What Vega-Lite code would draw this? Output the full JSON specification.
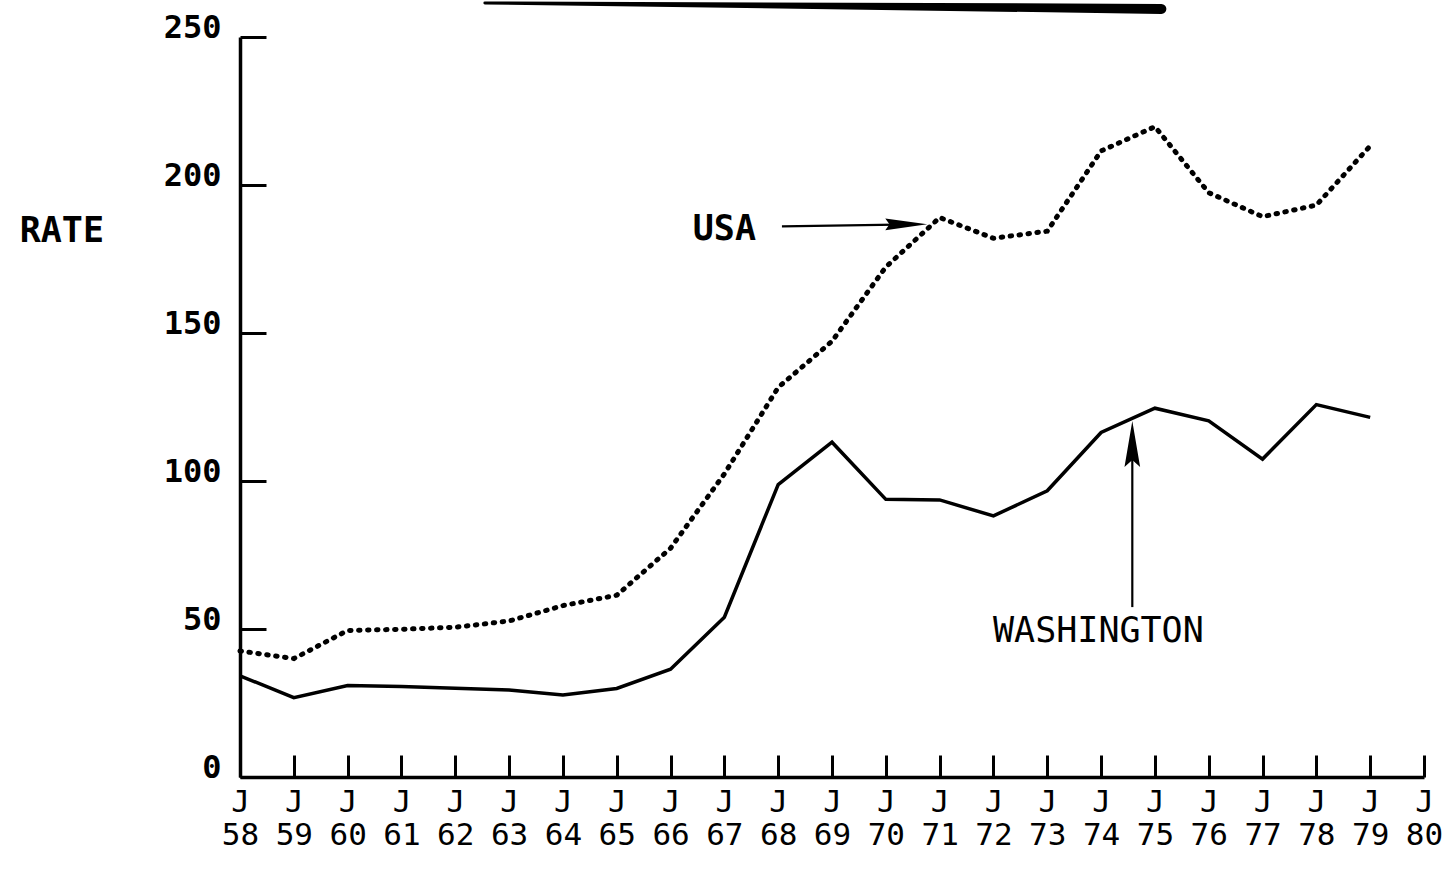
{
  "$schema": "https://vega.github.io/schema/vega-lite/v6.json",
  "width": 1184,
  "height": 740,
  "autosize": {"type": "none"},
  "padding": {"left": 240, "top": 37, "right": 25, "bottom": 103},
  "background": "white",
  "config": {"view": {"stroke": null}},
  "datasets": {
    "series": [
      {"year": 58, "region": "WASHINGTON", "rate": 34.2},
      {"year": 59, "region": "WASHINGTON", "rate": 26.8},
      {"year": 60, "region": "WASHINGTON", "rate": 30.9},
      {"year": 61, "region": "WASHINGTON", "rate": 30.6},
      {"year": 62, "region": "WASHINGTON", "rate": 30.0},
      {"year": 63, "region": "WASHINGTON", "rate": 29.4},
      {"year": 64, "region": "WASHINGTON", "rate": 27.7},
      {"year": 65, "region": "WASHINGTON", "rate": 29.9},
      {"year": 66, "region": "WASHINGTON", "rate": 36.4},
      {"year": 67, "region": "WASHINGTON", "rate": 54.0},
      {"year": 68, "region": "WASHINGTON", "rate": 98.8},
      {"year": 69, "region": "WASHINGTON", "rate": 113.1},
      {"year": 70, "region": "WASHINGTON", "rate": 93.8},
      {"year": 71, "region": "WASHINGTON", "rate": 93.6},
      {"year": 72, "region": "WASHINGTON", "rate": 88.2},
      {"year": 73, "region": "WASHINGTON", "rate": 96.7},
      {"year": 74, "region": "WASHINGTON", "rate": 116.4},
      {"year": 75, "region": "WASHINGTON", "rate": 124.6},
      {"year": 76, "region": "WASHINGTON", "rate": 120.3},
      {"year": 77, "region": "WASHINGTON", "rate": 107.4},
      {"year": 78, "region": "WASHINGTON", "rate": 125.8},
      {"year": 79, "region": "WASHINGTON", "rate": 121.5},
      {"year": 58, "region": "USA", "rate": 42.6},
      {"year": 59, "region": "USA", "rate": 40.0},
      {"year": 60, "region": "USA", "rate": 49.5},
      {"year": 61, "region": "USA", "rate": 49.9},
      {"year": 62, "region": "USA", "rate": 50.6},
      {"year": 63, "region": "USA", "rate": 52.7},
      {"year": 64, "region": "USA", "rate": 57.9},
      {"year": 65, "region": "USA", "rate": 61.4},
      {"year": 66, "region": "USA", "rate": 77.3},
      {"year": 67, "region": "USA", "rate": 102.4},
      {"year": 68, "region": "USA", "rate": 131.6},
      {"year": 69, "region": "USA", "rate": 147.2},
      {"year": 70, "region": "USA", "rate": 172.3},
      {"year": 71, "region": "USA", "rate": 189.0},
      {"year": 72, "region": "USA", "rate": 182.0},
      {"year": 73, "region": "USA", "rate": 184.4},
      {"year": 74, "region": "USA", "rate": 211.5},
      {"year": 75, "region": "USA", "rate": 219.7},
      {"year": 76, "region": "USA", "rate": 197.4},
      {"year": 77, "region": "USA", "rate": 189.3},
      {"year": 78, "region": "USA", "rate": 193.2},
      {"year": 79, "region": "USA", "rate": 213.2}
    ],
    "arrows": [
      {"year": 68.07, "rate": 186.0, "year2": 70.2, "rate2": 186.6},
      {"year": 74.58, "rate": 57.4, "year2": 74.58, "rate2": 110.0}
    ],
    "heads_right": [
      {"year": 70.38, "rate": 186.7}
    ],
    "heads_up": [
      {"year": 74.58, "rate": 112.5}
    ],
    "labels": [
      {"year": 67.0, "rate": 185.3, "text": "USA", "weight": "bold"},
      {"year": 54.69, "rate": 184.4, "text": "RATE", "weight": "bold"},
      {"year": 73.95, "rate": 49.3, "text": "WASHINGTON", "weight": "normal"}
    ],
    "bar": [
      {"year": 62.55, "rate": 261.5, "w": 3},
      {"year": 75.12, "rate": 259.5, "w": 10}
    ]
  },
  "encoding": {
    "x": {
      "field": "year",
      "type": "quantitative",
      "scale": {"domain": [58, 80], "nice": false, "zero": false},
      "axis": {
        "values": [58, 59, 60, 61, 62, 63, 64, 65, 66, 67, 68, 69, 70, 71, 72, 73, 74, 75, 76, 77, 78, 79, 80],
        "format": "d",
        "labelExpr": "['J', datum.label]",
        "title": null,
        "grid": false,
        "orient": "bottom",
        "domainColor": "black",
        "domainWidth": 3.5,
        "tickColor": "black",
        "tickWidth": 3,
        "tickSize": -22,
        "labelFont": "DejaVu Sans Mono",
        "labelFontSize": 31,
        "labelLineHeight": 33,
        "labelColor": "black",
        "labelPadding": 32,
        "labelBaseline": "top",
        "labelAlign": "center",
        "labelFlush": false,
        "labelOverlap": false,
        "labelBound": false
      }
    },
    "y": {
      "field": "rate",
      "type": "quantitative",
      "scale": {"domain": [0, 250], "nice": false},
      "axis": {
        "values": [0, 50, 100, 150, 200, 250],
        "title": null,
        "grid": false,
        "domainColor": "black",
        "domainWidth": 3.5,
        "tickColor": "black",
        "tickWidth": 3,
        "tickSize": -26,
        "labelFont": "DejaVu Sans Mono",
        "labelFontSize": 32,
        "labelFontWeight": "bold",
        "labelColor": "black",
        "labelPadding": 45,
        "labelOffset": -10,
        "labelFlush": false,
        "labelOverlap": false,
        "labelBound": false
      }
    }
  },
  "layer": [
    {
      "data": {"name": "series"},
      "transform": [{"filter": "datum.region === 'WASHINGTON'"}],
      "mark": {"type": "line", "color": "black", "strokeWidth": 3.5, "strokeJoin": "miter", "clip": false}
    },
    {
      "data": {"name": "series"},
      "transform": [{"filter": "datum.region === 'USA'"}],
      "mark": {"type": "line", "color": "black", "strokeWidth": 5, "strokeDash": [1.5, 7.5], "strokeCap": "round"}
    },
    {
      "data": {"name": "arrows"},
      "mark": {"type": "rule", "color": "black", "strokeWidth": 2.2},
      "encoding": {
        "x2": {"field": "year2"},
        "y2": {"field": "rate2"}
      }
    },
    {
      "data": {"name": "heads_right"},
      "mark": {"type": "point", "shape": "M1,0L-1,-0.28L-0.8,0L-1,0.28Z", "size": 1764, "filled": true, "color": "black", "opacity": 1, "strokeWidth": 0}
    },
    {
      "data": {"name": "heads_up"},
      "mark": {"type": "point", "shape": "M0,-1L0.34,1L0,0.7L-0.34,1Z", "size": 2116, "filled": true, "color": "black", "opacity": 1, "strokeWidth": 0}
    },
    {
      "data": {"name": "labels"},
      "transform": [{"filter": "datum.weight === 'bold'"}],
      "mark": {"type": "text", "font": "DejaVu Sans Mono", "fontSize": 35, "fontWeight": "bold", "color": "black", "align": "center", "baseline": "middle"},
      "encoding": {"text": {"field": "text"}}
    },
    {
      "data": {"name": "labels"},
      "transform": [{"filter": "datum.weight === 'normal'"}],
      "mark": {"type": "text", "font": "DejaVu Sans Mono", "fontSize": 35, "color": "black", "align": "center", "baseline": "middle"},
      "encoding": {"text": {"field": "text"}}
    },
    {
      "data": {"name": "bar"},
      "mark": {"type": "trail", "color": "black"},
      "encoding": {
        "size": {"field": "w", "type": "quantitative", "scale": null, "legend": null}
      }
    }
  ]
}
